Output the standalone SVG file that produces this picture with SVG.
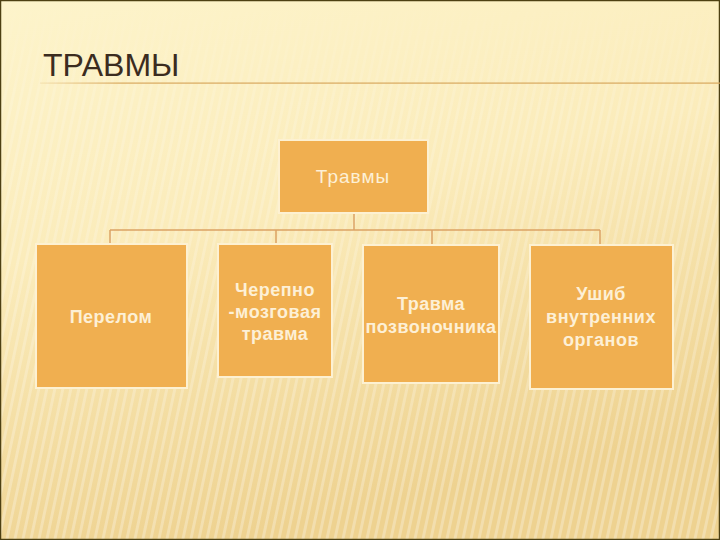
<svg xmlns="http://www.w3.org/2000/svg" width="720" height="540" viewBox="0 0 720 540">
<defs>
<linearGradient id="bg" x1="0" y1="0" x2="0.3" y2="1">
<stop offset="0" stop-color="#fdf4cb"/>
<stop offset="0.45" stop-color="#fbecbb"/>
<stop offset="1" stop-color="#eed290"/>
</linearGradient>
<pattern id="stripes" width="8" height="540" patternUnits="userSpaceOnUse" patternTransform="skewX(-12)">
<rect x="0" y="0" width="3" height="540" fill="#ffffff" opacity="0.28"/>
</pattern>
<linearGradient id="fade" x1="0" y1="0" x2="0" y2="1">
<stop offset="0" stop-color="#fff" stop-opacity="0"/>
<stop offset="0.2" stop-color="#fff" stop-opacity="0.6"/>
<stop offset="1" stop-color="#fff" stop-opacity="1"/>
</linearGradient>
<mask id="m"><rect width="720" height="540" fill="url(#fade)"/></mask>
<linearGradient id="uline" x1="0" y1="0" x2="1" y2="0">
<stop offset="0" stop-color="#d8a85e" stop-opacity="0.2"/>
<stop offset="0.12" stop-color="#d8a85e"/>
<stop offset="1" stop-color="#d8a85e"/>
</linearGradient>
</defs>
<style>
.box{fill:#f0af50;stroke:#fdf1d2;stroke-width:2}
.lbl{font-family:"Liberation Sans",Arial,sans-serif;font-size:18px;font-weight:bold;fill:#fdf0d6;text-anchor:middle;letter-spacing:0.5px}
.top{font-family:"Liberation Sans",Arial,sans-serif;font-size:19px;fill:#fdf0d6;text-anchor:middle;letter-spacing:1px}
.conn{fill:none;stroke:#dba364;stroke-width:1.5}
</style>
<rect width="720" height="540" fill="url(#bg)"/>
<rect width="720" height="540" fill="url(#stripes)" mask="url(#m)"/>
<rect x="0.5" y="0.5" width="719" height="539" fill="none" stroke="#4d4012" stroke-width="1.5"/>
<text x="43" y="76" font-family="Liberation Sans,Arial,sans-serif" font-size="32" fill="#3b2c1f">ТРАВМЫ</text>
<rect x="40" y="82.5" width="680" height="1.2" fill="url(#uline)"/>
<g id="connectors">
<path class="conn" d="M354 213 V230 M110 230 H600 M110 230 V244 M276 230 V244 M432 230 V245 M600 230 V245"/>
</g>
<g id="node-root">
<rect class="box" x="279" y="140" width="149" height="73"/>
<text class="top" x="353" y="183">Травмы</text>
</g>
<g id="node-perelom">
<rect class="box" x="36" y="244" width="151" height="144"/>
<text class="lbl" x="111" y="323">Перелом</text>
</g>
<g id="node-cherepno">
<rect class="box" x="218" y="244" width="114" height="133"/>
<text class="lbl" x="275" y="296">Черепно</text>
<text class="lbl" x="275" y="318">-мозговая</text>
<text class="lbl" x="275" y="340">травма</text>
</g>
<g id="node-spine">
<rect class="box" x="363" y="245" width="136" height="138"/>
<text class="lbl" x="431" y="310">Травма</text>
<text class="lbl" x="431" y="333">позвоночника</text>
</g>
<g id="node-organs">
<rect class="box" x="530" y="245" width="143" height="144"/>
<text class="lbl" x="601" y="300">Ушиб</text>
<text class="lbl" x="601" y="323">внутренних</text>
<text class="lbl" x="601" y="346">органов</text>
</g>
</svg>
